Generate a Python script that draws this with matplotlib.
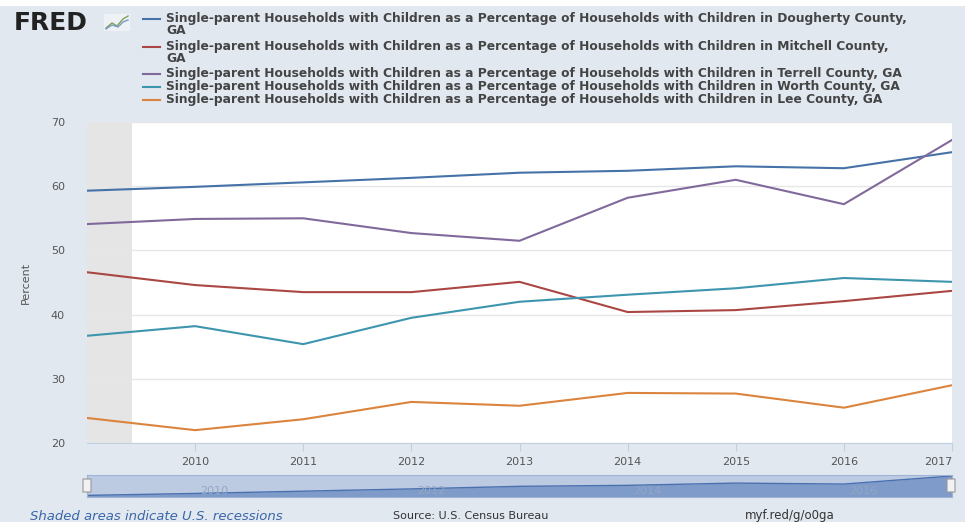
import matplotlib.pyplot as plt
from matplotlib.patches import Rectangle, FancyBboxPatch
from matplotlib.lines import Line2D

bg_color = '#e1e8f0'
text_gray = '#444444'

years = [2009, 2010, 2011, 2012, 2013, 2014, 2015, 2016, 2017]

dougherty = [59.3, 59.9, 60.6, 61.3, 62.1, 62.4, 63.1, 62.8, 65.3]
mitchell  = [46.6, 44.6, 43.5, 43.5, 45.1, 40.4, 40.7, 42.1, 43.7]
terrell   = [54.1, 54.9, 55.0, 52.7, 51.5, 58.2, 61.0, 57.2, 67.2]
worth     = [36.7, 38.2, 35.4, 39.5, 42.0, 43.1, 44.1, 45.7, 45.1]
lee       = [23.9, 22.0, 23.7, 26.4, 25.8, 27.8, 27.7, 25.5, 29.0]

series = [dougherty, mitchell, terrell, worth, lee]
colors = ['#4572a7', '#aa4643', '#80699b', '#3d96ae', '#db843d']
base = "Single-parent Households with Children as a Percentage of Households with Children in "
labels = [base + "Dougherty County,\nGA",
          base + "Mitchell County,\nGA",
          base + "Terrell County, GA",
          base + "Worth County, GA",
          base + "Lee County, GA"]

recession = (2009.0, 2009.42)
yticks = [20, 30, 40, 50, 60, 70]

fig = plt.figure(figsize=(9.65, 5.22), dpi=100)
fig.patch.set_facecolor('white')
fig.patches.append(Rectangle((0, 0), 1, 1 - 6 / 522, transform=fig.transFigure,
                             facecolor=bg_color, edgecolor='none', zorder=-10))

# main chart
ax = fig.add_axes([87 / 965, 1 - 443 / 522, 865 / 965, 321 / 522])
ax.set_facecolor('white')
ax.axvspan(recession[0], recession[1], color='#e5e5e5', lw=0, zorder=0)
for s, c in zip(series, colors):
    ax.plot(years, s, color=c, lw=1.5, zorder=3)
ax.set_xlim(2009, 2017)
ax.set_ylim(20, 70)
ax.set_yticks(yticks)
ax.set_xticks(years[1:])
ax.grid(axis='y', color='#e6e6e6', lw=1)
for sp in ['top', 'right', 'left']:
    ax.spines[sp].set_visible(False)
ax.spines['bottom'].set_color('#c0d0e0')
ax.tick_params(axis='y', length=0, pad=16, labelsize=8, colors='#555555')
ax.tick_params(axis='x', length=6, color='#c0d0e0', pad=4, labelsize=8, labelcolor='#555555')
ax.get_xticklabels()[-1].set_horizontalalignment('right')
ax.set_ylabel('Percent', fontsize=8, color='#555555', labelpad=14)

# navigator
nav = fig.add_axes([87 / 965, 1 - 497 / 522, 865 / 965, 22 / 522])
nav.set_facecolor('#bccbe2')
nav.fill_between(years, dougherty, 58.8, color='#7e9bc9', lw=0)
nav.plot(years, dougherty, color='#4a70b0', lw=1)
nav.set_xlim(2009, 2017)
nav.set_ylim(58.8, 65.6)
nav.set_xticks([])
nav.set_yticks([])
for sp in nav.spines.values():
    sp.set_color('#9fb3d4')
for yr in [2010, 2012, 2014, 2016]:
    nav.text(yr + 0.05, 0.15, str(yr), transform=nav.get_xaxis_transform(),
             fontsize=8, color='#93a6c4')
for hx in [87, 951]:
    fig.patches.append(FancyBboxPatch(((hx - 4) / 965, 1 - 492 / 522), 8 / 965, 13 / 522,
                                      boxstyle='round,pad=0', transform=fig.transFigure,
                                      facecolor='#f2f2f2', edgecolor='#999999', lw=0.8))

# FRED logo
fig.text(14 / 965, 1 - 23 / 522, 'FRED', fontsize=18, fontweight='black',
         color='#222222', va='center')
fig.patches.append(Rectangle((104 / 965, 1 - 31 / 522), 26 / 965, 17 / 522,
                             transform=fig.transFigure, facecolor='#eef2f6',
                             edgecolor='none'))
fig.lines.append(Line2D([106 / 965, 112 / 965, 117 / 965, 123 / 965, 128 / 965],
                        [1 - 28 / 522, 1 - 23 / 522, 1 - 26 / 522, 1 - 19 / 522, 1 - 16 / 522],
                        transform=fig.transFigure, color='#7fa35a', lw=1))
fig.lines.append(Line2D([106 / 965, 112 / 965, 118 / 965, 123 / 965, 128 / 965],
                        [1 - 29 / 522, 1 - 25 / 522, 1 - 27 / 522, 1 - 22 / 522, 1 - 20 / 522],
                        transform=fig.transFigure, color='#7a9cc8', lw=1))

# legend
line_y = [19, 47, 74, 87, 100]
for y, c, lab in zip(line_y, colors, labels):
    fig.lines.append(Line2D([143 / 965, 160 / 965], [1 - y / 522] * 2,
                            transform=fig.transFigure, color=c, lw=1.5))
    fig.text(166 / 965, 1 - (y - 7) / 522, lab, fontsize=8.85, fontweight='bold',
             color=text_gray, va='top', linespacing=0.95)

# footer
fig.text(30 / 965, 1 - 516 / 522, 'Shaded areas indicate U.S. recessions', fontsize=9.5,
         style='italic', color='#3a66a8', va='center')
fig.text(393 / 965, 1 - 516 / 522, 'Source: U.S. Census Bureau', fontsize=8,
         color='#333333', va='center')
fig.text(745 / 965, 1 - 516 / 522, 'myf.red/g/o0ga', fontsize=8.5,
         color='#333333', va='center')

fig.savefig('out.png', dpi=100, facecolor=fig.get_facecolor())
